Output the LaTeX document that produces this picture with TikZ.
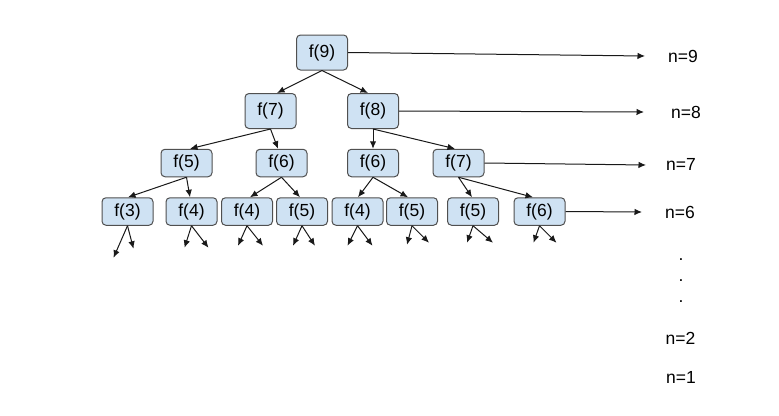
\documentclass[tikz,border=0pt]{standalone}
\usepackage{fontspec}
\setmainfont{Liberation Sans}
\usetikzlibrary{arrows.meta,calc}
\definecolor{boxfill}{HTML}{CFE2F3}
\definecolor{boxline}{HTML}{505050}
\begin{document}
\begin{tikzpicture}[x=1pt,y=-1pt,
  fbox/.style={draw=boxline,fill=boxfill,rounded corners=4pt,line width=1pt,
    minimum width=51pt,inner sep=0pt,font=\fontsize{17.5}{20}\selectfont},
  bigbox/.style={fbox,minimum height=35pt},
  smallbox/.style={fbox,minimum height=27.5pt},
  arr/.style={draw=black!90,line width=1pt,-{Latex[length=7.5pt,width=6.5pt]}},
  lbl/.style={font=\fontsize{17.5}{20}\selectfont,inner sep=0pt}]
\useasboundingbox (0,0) rectangle (779,415);
\fill[white] (0,0) rectangle (779,415);
% row 1
\node[bigbox] (f9) at (322,52.5) {f(9)};
% row 2
\node[bigbox] (f7) at (270.5,111) {f(7)};
\node[bigbox] (f8) at (373,111) {f(8)};
% row 3
\node[smallbox] (a5) at (186.5,163) {f(5)};
\node[smallbox] (a6) at (281.5,163) {f(6)};
\node[smallbox] (b6) at (373,163) {f(6)};
\node[smallbox] (b7) at (458.5,163) {f(7)};
% row 4
\node[smallbox] (c3) at (127.5,211.5) {f(3)};
\node[smallbox] (c4) at (191.5,211.5) {f(4)};
\node[smallbox] (d4) at (247,211.5) {f(4)};
\node[smallbox] (d5) at (302,211.5) {f(5)};
\node[smallbox] (e4) at (357.5,211.5) {f(4)};
\node[smallbox] (e5) at (412,211.5) {f(5)};
\node[smallbox] (g5) at (473,211.5) {f(5)};
\node[smallbox] (g6) at (539.5,211.5) {f(6)};
% tree edges
\draw[arr] (f9.south) -- ($(f7.north)+(6.5,0)$);
\draw[arr] (f9.south) -- ($(f8.north)+(-5,0)$);
\draw[arr] (f7.south) -- ($(a5.north)+(3.5,0)$);
\draw[arr] (f7.south) -- ($(a6.north)+(-3.5,0)$);
\draw[arr] (f8.south) -- (b6.north);
\draw[arr] (f8.south) -- ($(b7.north)+(-3.5,0)$);
\draw[arr] (a5.south) -- ($(c3.north)+(0.5,0)$);
\draw[arr] (a5.south) -- ($(c4.north)+(-1.5,0)$);
\draw[arr] (a6.south) -- ($(d4.north)+(3,0)$);
\draw[arr] (a6.south) -- ($(d5.north)+(-2,0)$);
\draw[arr] (b6.south) -- ($(e4.north)+(0.5,0)$);
\draw[arr] (b6.south) -- ($(e5.north)+(-4,0)$);
\draw[arr] (b7.south) -- ($(g5.north)+(-1,0)$);
\draw[arr] (b7.south) -- ($(g6.north)+(-6.5,0)$);
% leaf arrows
\draw[arr] (c3.south) -- ++(-14,32);
\draw[arr] (c3.south) -- ++(6,23);
\draw[arr] (c4.south) -- ++(-7,22);
\draw[arr] (c4.south) -- ++(17,22);
\draw[arr] (d4.south) -- ++(-9,20);
\draw[arr] (d4.south) -- ++(16,20);
\draw[arr] (d5.south) -- ++(-9,20);
\draw[arr] (d5.south) -- ++(13,20);
\draw[arr] (e4.south) -- ++(-10,20);
\draw[arr] (e4.south) -- ++(15,20);
\draw[arr] (e5.south) -- ++(-5,19);
\draw[arr] (e5.south) -- ++(17,17);
\draw[arr] (g5.south) -- ++(-6,17);
\draw[arr] (g5.south) -- ++(20,17);
\draw[arr] (g6.south) -- ++(-6,17);
\draw[arr] (g6.south) -- ++(17,17);
% level labels
\node[lbl] (n9) at (683,56) {n=9};
\node[lbl] (n8) at (686,112) {n=8};
\node[lbl] (n7) at (681,164) {n=7};
\node[lbl] (n6) at (680,212) {n=6};
\node[lbl,anchor=base] (d1) at (681,260) {.};
\node[lbl,anchor=base] (d2) at (681,281) {.};
\node[lbl,anchor=base] (d3) at (681,302) {.};
\node[lbl] (n2) at (680.5,338) {n=2};
\node[lbl] (n1) at (681,377) {n=1};
% level arrows
\coordinate (t9) at (645,56);
\coordinate (t8) at (644,112);
\coordinate (t7) at (646,165);
\coordinate (t6) at (642,212);
\draw[arr] (f9.east) -- (t9);
\draw[arr] (f8.east) -- (t8);
\draw[arr] (b7.east) -- (t7);
\draw[arr] (g6.east) -- (t6);
\end{tikzpicture}
\end{document}
